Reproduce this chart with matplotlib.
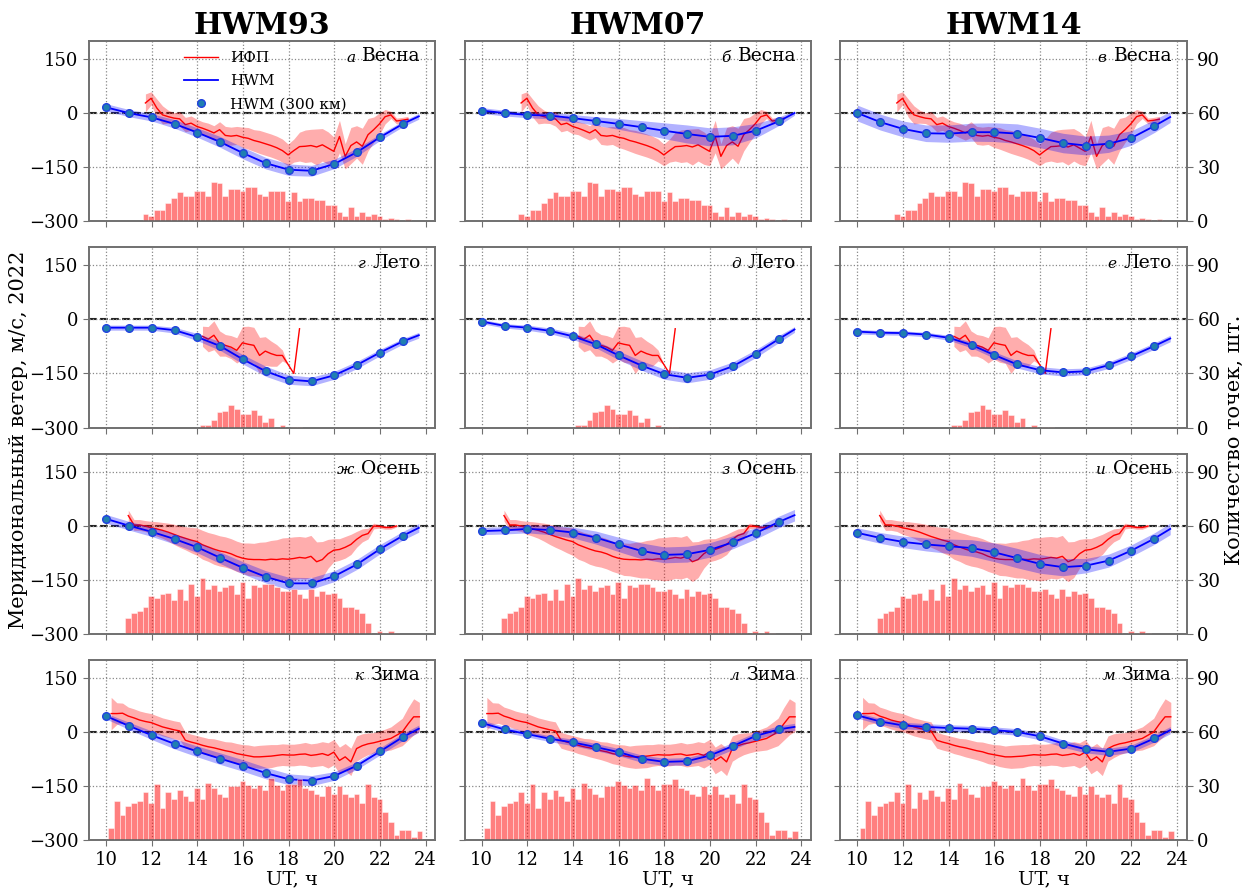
import numpy as np
import matplotlib
matplotlib.use("Agg")
import matplotlib.pyplot as plt
from matplotlib.lines import Line2D

plt.rcParams["font.family"] = ["DejaVu Serif"]
plt.rcParams["axes.edgecolor"] = "#707070"
plt.rcParams["axes.linewidth"] = 1.2

MODELS = ["HWM93", "HWM07", "HWM14"]
SEASONS = ["Весна", "Лето", "Осень", "Зима"]
LETTERS = [["а", "б", "в"], ["г", "д", "е"], ["ж", "з", "и"], ["к", "л", "м"]]

# гистограмма: ячейки по 15 мин
BIN_START = 10.1
BIN_WIDTH = 0.25
N_BINS = 55

spring_counts = [0, 0, 0, 0, 0, 0, 4, 3, 6, 6, 10, 13, 16, 14, 14, 17, 17, 14, 22, 21, 14, 18, 18, 17, 19,
                 19, 15, 14, 17, 17, 17, 11, 16, 11, 13, 13, 12, 12, 9, 9, 5, 3, 8, 3, 5, 3, 4, 3, 1, 2,
                 1, 0, 1, 0, 0]
summer_counts = [0] * 16 + [1.5, 1.5, 4.3, 8.4, 9.3, 12.3, 10.2, 7.5, 7.5, 10, 7, 3, 5.2, 0, 1.5, 0, 0.5,
                            0.5] + [0] * 21
autumn_counts = [0, 0, 0, 8.7, 11.7, 12.6, 14.8, 21, 19.9, 21.9, 22.8, 18.9, 24.7, 18.9, 27.8, 21, 31,
                 24.7, 26.9, 23.7, 26, 26.9, 21.9, 28.8, 19.9, 26.9, 26, 27.8, 27.8, 26, 23.7, 23.7, 24.7,
                 21.9, 19.9, 24.7, 21, 23.7, 21.9, 22.8, 19.9, 14.8, 14.8, 13.9, 11.7, 5.9, 0, 1.5, 0.5,
                 1.5, 0.5, 0, 0, 0, 0]
winter_counts = [7, 21.8, 14.2, 18.7, 20.7, 21.8, 26.8, 20.7, 30.9, 17.6, 26.8, 22.7, 27.7, 24.6, 21.8,
                 28.7, 22.7, 31.8, 28.7, 25.7, 23.7, 29.8, 29.8, 32.7, 30.5, 28.7, 30.5, 27.7, 34.7, 30.5,
                 27.7, 30.9, 30.9, 33.8, 28.7, 27.7, 25.7, 24.6, 29.8, 25.7, 29.8, 25.7, 23.7, 25.7, 20.7,
                 30.9, 23.7, 22.7, 15.7, 10.2, 2.8, 5.9, 5.9, 1.8, 5]

# ИФП: среднее и разброс по ячейкам (первая ячейка с данными)
spring_first = 6
spring_mean = [28, 41, 14, -5, -10, -14, -16, -32, -28, -37, -42, -48, -55, -46, -62, -64, -62, -67, -70,
               -76, -80, -85, -90, -96, -104, -116, -104, -93, -92, -90, -94, -88, -97, -106, -65, -120,
               -90, -80, -92, -60, -46, -30, -10, -5, -22, -20, -17]
spring_std = [25, 18, 25, 25, 18, 15, 20, 20, 20, 20, 18, 20, 20, 22, 25, 25, 25, 28, 30, 30, 32, 32, 32,
              32, 32, 30, 32, 40, 45, 45, 50, 45, 45, 40, 45, 35, 50, 45, 50, 45, 35, 30, 20, 10, 8, 8, 8]

summer_first = 16
summer_mean = [-47, -55, -44, -67, -72, -77, -86, -65, -69, -72, -100, -88, -95, -100, -100, -125, -150, -26]
summer_std = [28, 35, 40, 35, 30, 32, 35, 45, 50, 50, 50, 40, 35, 30, 15, 0, 0, 0]

autumn_first = 3
autumn_mean = [28, 2, 2, -1, -6, -9, -13, -18, -24, -30, -35, -40, -44, -53, -59, -65, -70, -73, -78, -85,
               -90, -93, -94, -94, -95, -93, -94, -92, -93, -91, -88, -90, -85, -100, -94, -78, -68, -66,
               -60, -52, -38, -27, -22, -1, -2, -5, -5, -1]
autumn_std = [15, 15, 15, 15, 18, 20, 22, 25, 28, 30, 32, 35, 38, 40, 40, 42, 42, 42, 42, 42, 42, 45, 45,
              48, 50, 52, 55, 58, 60, 60, 58, 58, 58, 55, 50, 40, 32, 30, 30, 28, 22, 18, 15, 8, 5, 5, 5, 3]

winter_first = 0
winter_mean = [51, 51, 52, 44, 39, 33, 29, 26, 20, 14, 10, 6, 3, -23, -28, -32, -37, -41, -44, -48, -52,
               -55, -60, -63, -66, -69, -69, -68, -67, -65, -63, -64, -64, -62, -61, -65, -63, -60, -65,
               -56, -79, -69, -83, -46, -38, -33, -30, -26, -22, -18, -9, 0, 22, 42, 42]
winter_std = [45, 30, 28, 25, 25, 25, 25, 25, 25, 25, 25, 25, 25, 22, 22, 22, 23, 23, 25, 25, 25, 27, 28,
              28, 30, 30, 32, 32, 32, 30, 30, 30, 30, 30, 32, 32, 32, 33, 35, 35, 37, 37, 38, 35, 33, 30,
              28, 28, 30, 32, 35, 38, 45, 50, 40]

# модели: значения в 10..23 ч UT и в конце кривой
hwm_ut = [10, 11, 12, 13, 14, 15, 16, 17, 18, 19, 20, 21, 22, 23, 23.7]

hwm93_spring = [16, 0, -12, -30, -54, -80, -111, -139, -157, -160, -141, -108, -67, -30, -9]
hwm93_summer = [-23, -23, -23, -30, -49, -74, -111, -144, -167, -172, -155, -126, -92, -61, -44]
hwm93_autumn = [19, 0, -17, -37, -60, -89, -117, -142, -160, -160, -140, -107, -65, -28, -6]
hwm93_winter = [44, 17, -9, -33, -54, -74, -93, -114, -131, -135, -122, -93, -54, -14, 9]

hwm07_spring = [7, 0, -5, -7, -14, -22, -30, -39, -49, -58, -66, -63, -49, -23, 0]
hwm07_summer = [-6, -18, -23, -32, -47, -69, -100, -128, -152, -162, -153, -130, -95, -55, -28]
hwm07_autumn = [-15, -13, -9, -12, -19, -33, -52, -70, -81, -79, -67, -46, -21, 10, 29]
hwm07_winter = [25, 7, -6, -19, -29, -42, -56, -74, -83, -81, -65, -39, -11, 7, 14]

hwm14_spring = [0, -25, -44, -56, -57, -53, -53, -57, -69, -83, -90, -85, -69, -36, -11]
hwm14_summer = [-34, -37, -38, -42, -51, -71, -99, -125, -141, -147, -144, -127, -102, -74, -53]
hwm14_autumn = [-20, -34, -45, -52, -57, -62, -74, -90, -106, -115, -111, -97, -69, -36, -9]
hwm14_winter = [46, 29, 18, 14, 11, 9, 5, 0, -12, -32, -48, -55, -46, -18, 5]

# полуширина полосы моделей
hwm93_spring_sd = [10, 10, 10, 12, 13, 15, 16, 16, 16, 15, 13, 11, 9, 8, 8]
hwm93_summer_sd = [7, 7, 7, 8, 10, 12, 13, 14, 13, 12, 11, 10, 9, 8, 8]
hwm93_autumn_sd = [12, 12, 13, 14, 15, 16, 17, 17, 17, 16, 15, 14, 13, 12, 12]
hwm93_winter_sd = [8, 10, 12, 14, 15, 16, 16, 16, 15, 14, 12, 10, 10, 10, 10]
hwm07_spring_sd = [8, 8, 8, 9, 10, 12, 15, 18, 22, 25, 25, 25, 20, 12, 6]
hwm07_summer_sd = [6, 6, 7, 8, 9, 10, 12, 13, 14, 14, 13, 12, 11, 10, 8]
hwm07_autumn_sd = [10, 10, 11, 13, 15, 18, 20, 22, 22, 22, 20, 18, 16, 16, 16]
hwm07_winter_sd = [8, 8, 8, 8, 9, 10, 10, 10, 10, 10, 10, 10, 10, 10, 10]
hwm14_spring_sd = [22, 22, 22, 23, 24, 25, 26, 27, 27, 27, 26, 24, 20, 18, 15]
hwm14_summer_sd = [6, 6, 6, 6, 7, 8, 9, 10, 10, 10, 9, 9, 9, 9, 9]
hwm14_autumn_sd = [14, 15, 16, 18, 20, 23, 26, 27, 26, 24, 20, 18, 16, 16, 16]
hwm14_winter_sd = [8, 8, 9, 9, 9, 9, 9, 9, 10, 10, 10, 10, 10, 10, 10]

counts = [spring_counts, summer_counts, autumn_counts, winter_counts]
ifp = [(spring_first, spring_mean, spring_std), (summer_first, summer_mean, summer_std),
       (autumn_first, autumn_mean, autumn_std), (winter_first, winter_mean, winter_std)]
hwm = [[hwm93_spring, hwm07_spring, hwm14_spring],
       [hwm93_summer, hwm07_summer, hwm14_summer],
       [hwm93_autumn, hwm07_autumn, hwm14_autumn],
       [hwm93_winter, hwm07_winter, hwm14_winter]]
hwm_sd = [[hwm93_spring_sd, hwm07_spring_sd, hwm14_spring_sd],
          [hwm93_summer_sd, hwm07_summer_sd, hwm14_summer_sd],
          [hwm93_autumn_sd, hwm07_autumn_sd, hwm14_autumn_sd],
          [hwm93_winter_sd, hwm07_winter_sd, hwm14_winter_sd]]

edges = BIN_START + BIN_WIDTH * np.arange(N_BINS + 1)
centers = edges[:-1] + BIN_WIDTH / 2

fig, axes = plt.subplots(4, 3, figsize=(12.52, 8.90), dpi=100, sharex=True)
fig.subplots_adjust(left=0.071, right=0.948, top=0.954, bottom=0.056, wspace=0.084, hspace=0.144)

for r in range(4):
    first, mean, std = ifp[r]
    mean = np.array(mean, dtype=float)
    std = np.array(std, dtype=float)
    ut = centers[first:first + len(mean)]
    for c in range(3):
        ax = axes[r, c]
        ax.set_xlim(9.25, 24.43)
        ax.set_ylim(-300, 200)
        ax.set_xticks(range(10, 25, 2))
        ax.set_yticks([-300, -150, 0, 150])
        ax.grid(True, ls=":", color="#888888", lw=0.9)
        ax.tick_params(labelsize=13, color="#707070", length=4)

        ax.axhline(0, color="#222222", ls="--", lw=1.5, zorder=1)
        ax.fill_between(ut, mean - std, mean + std, color="red", alpha=0.32, lw=0, zorder=2)
        ax.plot(ut, mean, color="red", lw=1, zorder=3)

        v = np.array(hwm[r][c], dtype=float)
        sd = np.array(hwm_sd[r][c], dtype=float)
        ax.fill_between(hwm_ut, v - sd, v + sd, color="blue", alpha=0.3, lw=0, zorder=4)
        ax.plot(hwm_ut, v, color="blue", lw=1.3, zorder=5)
        ax.plot(hwm_ut[:-1], v[:-1], "o", ms=5.5, mfc="#1f7fb0", mec="#2040e0", mew=1, zorder=6)

        ax2 = ax.twinx()
        ax2.set_ylim(0, 100)
        ax2.bar(edges[:-1], counts[r], width=BIN_WIDTH, align="edge", color="red", alpha=0.5,
                edgecolor="white", lw=0.6)
        if c == 2:
            ax2.set_yticks([0, 30, 60, 90])
            ax2.tick_params(labelsize=13, color="#707070", length=4)
        else:
            ax2.set_yticks([])

        if c != 0:
            ax.tick_params(labelleft=False)
        if r == 3:
            ax.set_xlabel("UT, ч", fontsize=14, x=0.587, labelpad=1)
        if r == 0:
            ax.set_title(MODELS[c], fontsize=21.5, fontweight="bold", pad=5)

        t = ax.text(0.957, 0.965, SEASONS[r], transform=ax.transAxes, ha="right", va="top",
                    fontsize=13.5, zorder=10)
        ax.annotate(LETTERS[r][c], xy=(0, 0), xycoords=t, xytext=(-5, 0.5), textcoords="offset points",
                    ha="right", va="bottom", fontsize=11, style="italic", zorder=10)

handles = [Line2D([], [], color="red", lw=1),
           Line2D([], [], color="blue", lw=1.3),
           Line2D([], [], ls="none", marker="o", ms=5.5, mfc="#1f7fb0", mec="#2040e0")]
axes[0, 0].legend(handles, ["ИФП", "HWM", "HWM (300 км)"], loc="upper center",
                  bbox_to_anchor=(0.51, 1.02), frameon=False, fontsize=11, handlelength=2.2,
                  labelspacing=0.6)

fig.text(0.0145, 0.506, "Меридиональный ветер, м/с, 2022", rotation=90, ha="center", va="center",
         fontsize=15)
fig.text(0.986, 0.506, "Количество точек, шт.", rotation=90, ha="center", va="center", fontsize=15)

fig.savefig("out.png", dpi=100)
